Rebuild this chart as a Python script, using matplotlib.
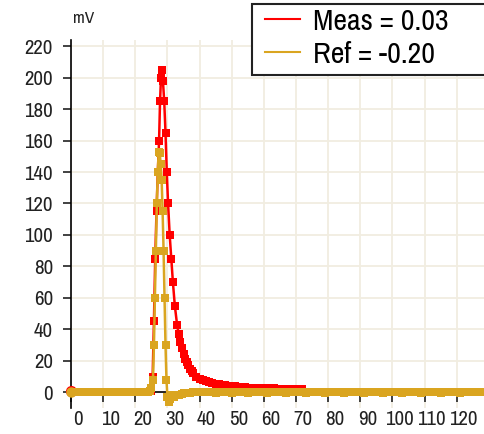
import numpy as np
import matplotlib
matplotlib.use("Agg")
import matplotlib.pyplot as plt
import matplotlib.transforms as mtrans
from matplotlib.patches import Rectangle

plt.rcParams['font.family'] = ['Liberation Sans Narrow', 'Arial Narrow', 'Archivo Narrow', 'DejaVu Sans']

# Meas (red) trace
meas_x = [0, 1, 2, 3, 4, 5, 6, 7, 8, 9, 10, 11, 12, 13, 14, 15, 16, 17, 18, 19, 20, 21, 22, 23, 24,
          24.5, 25.0, 25.4, 25.8, 26.2, 26.6, 27.0, 27.4, 27.7, 28.0, 28.3, 28.6, 29.0, 29.4, 29.8,
          30.2, 30.7, 31.2, 31.7, 32.3, 33, 33.5, 34, 34.5, 35, 35.5, 36, 36.5, 37, 37.5, 38, 39,
          40, 41, 42, 43, 44, 45, 46, 47, 48, 49, 50, 51, 52, 53, 54, 55, 56, 57, 58, 59, 60,
          61, 62, 63, 64, 65, 66, 67, 68, 69, 70, 71, 72]
meas_y = [1.0, 0, 0, 0, 0, 0, 0, 0, 0, 0, 0, 0, 0, 0, 0, 0, 0, 0, 0, 0, 0, 0, 0, 0, 0,
          0.5, 1, 10, 45, 85, 115, 140, 160, 185, 200, 205, 198, 185, 165, 140,
          120, 100, 85, 70, 55, 43, 37, 32, 28, 24, 21, 19, 17, 15, 13.5, 12, 10,
          8.5, 7.8, 7, 6.5, 6, 5.5, 5, 4.8, 4.5, 4.2, 4, 3.8, 3.5, 3.3, 3.1, 3, 2.9, 2.8, 2.7, 2.6, 2.5,
          2.5, 2.4, 2.4, 2.3, 2.2, 2.2, 2.1, 2.1, 2.0, 2.0, 2.0, 2.0]

# Ref (goldenrod) trace
ref_x = [0, 1, 2, 3, 4, 5, 6, 7, 8, 9, 10, 11, 12, 13, 14, 15, 16, 17, 18, 19, 20, 21, 22, 23, 24,
         24.5, 25.0, 25.5, 25.8, 26.1, 26.4, 26.7, 27.0, 27.3, 27.6, 27.9, 28.2, 28.5, 28.8, 29.1,
         29.4, 29.7, 30.0, 30.4, 30.8, 31.3, 32, 32.7, 33.5, 34.5, 35, 36, 37, 38, 39, 40, 41,
         42, 43, 44, 45, 46, 47, 48, 49, 50, 51, 52, 53, 54, 55, 56, 57, 58, 59, 60, 61, 62,
         63, 64, 65, 66, 67, 68, 69, 70, 71, 72, 73, 74, 75, 76, 77, 78, 79, 80, 81, 82, 83,
         84, 85, 86, 87, 88, 89, 90, 91, 92, 93, 94, 95, 96, 97, 98, 99, 100, 101, 102, 103,
         104, 105, 106, 107, 108, 109, 110, 111, 112, 113, 114, 115, 116, 117, 118, 119, 120,
         121, 122, 123, 124, 125, 126, 127, 128]
ref_y = [0, 0, 0, 0, 0, 0, 0, 0, 0, 0, 0, 0, 0, 0, 0, 0, 0, 0, 0, 0, 0, 0, 0, 0, 0,
         1, 3, 8, 30, 60, 90, 120, 140, 153, 152, 145, 135, 115, 90, 60,
         30, 8, -3, -6, -4, -2, -3, -1.5, -2, -1, -0.8, -0.5, -0.3, 0, 0.3, 0.3, 0,
         0, 0.3, 0, -0.3, 0, 0.3, 0, 0, -0.3, 0, 0.3, 0, 0, -0.3, 0, 0, 0.3, 0, 0, -0.3, 0,
         0, 0.3, 0, 0, -0.3, 0, 0, 0.3, 0, 0, -0.3, 0, 0, 0.3, 0, 0, -0.3, 0, 0, 0.3, 0,
         0, -0.3, 0, 0, 0.3, 0, 0, -0.3, 0, 0, 0.3, 0, 0, -0.3, 0, 0, 0.3, 0, 0, -0.3,
         0, 0, 0.3, 0, 0, -0.3, 0, 0, 0.3, 0, 0, -0.3, 0, 0, 0.3, 0, 0,
         -0.3, 0, 0, 0.3, 0, 0, 0, 0]

meas_label = "Meas = 0.03"
ref_label = "Ref = -0.20"
red = '#ff0000'
gold = '#daa520'

fig = plt.figure(figsize=(4.85, 4.34), dpi=100)
ax = fig.add_axes([0.1464, 0.06, 0.8536, 0.848])

ax.plot(meas_x, meas_y, color=red, lw=1.8, marker='s', ms=5.5, mew=0, label=meas_label, zorder=3)
ax.plot(ref_x, ref_y, color=gold, lw=1.8, marker='s', ms=5.5, mew=0, label=ref_label, zorder=4)
# bigger dots at the start of each trace
ax.plot(meas_x[0], meas_y[0], 'o', color=red, ms=8, mew=0, clip_on=False, zorder=3)
ax.plot(ref_x[0], ref_y[0], 'o', color=gold, ms=7.5, mew=0, clip_on=False, zorder=4)

ax.set_xlim(0, 128.8)
ax.set_ylim(-10, 224)
ax.set_xticks(np.arange(0, 121, 10))
ax.set_yticks(np.arange(0, 221, 20))

ax.grid(True, color='#f1ede1', lw=1.3, zorder=0)
ax.set_axisbelow(True)
for s in ['top', 'right']:
    ax.spines[s].set_visible(False)
ax.spines['bottom'].set_position(('data', 0))
ax.spines['bottom'].set_zorder(1)
ax.spines['left'].set_linewidth(1.2)
ax.spines['bottom'].set_linewidth(1.2)

ax.tick_params(axis='x', direction='out', length=7, width=1.2, pad=6, labelsize=15, colors='#222222')
ax.tick_params(axis='y', direction='out', length=6, width=1.2, pad=7, labelsize=15, colors='#222222')
offset = mtrans.ScaledTranslation(7 / 100, 0, fig.dpi_scale_trans)
for lab in ax.get_xticklabels():
    lab.set_transform(lab.get_transform() + offset)

fig.text(0.172, 0.958, "mV", fontsize=12.5, ha='center', va='center', color='#222222')

# legend box runs off the right edge of the picture
fig.add_artist(Rectangle((0.5196, 0.8272), 0.5, 0.1636, transform=fig.transFigure,
                         facecolor='white', edgecolor='#222222', lw=1.5, zorder=4))
leg = fig.legend(loc='upper left', bbox_to_anchor=(0.535, 0.996), frameon=False,
                 fontsize=21.5, handlelength=1.17, handletextpad=0.42,
                 borderpad=0.2, labelspacing=0.2, borderaxespad=0)
leg.set_zorder(5)
for h in leg.get_lines():
    h.set_marker('')
    h.set_linewidth(1.5)

fig.savefig('out.png', dpi=100)
